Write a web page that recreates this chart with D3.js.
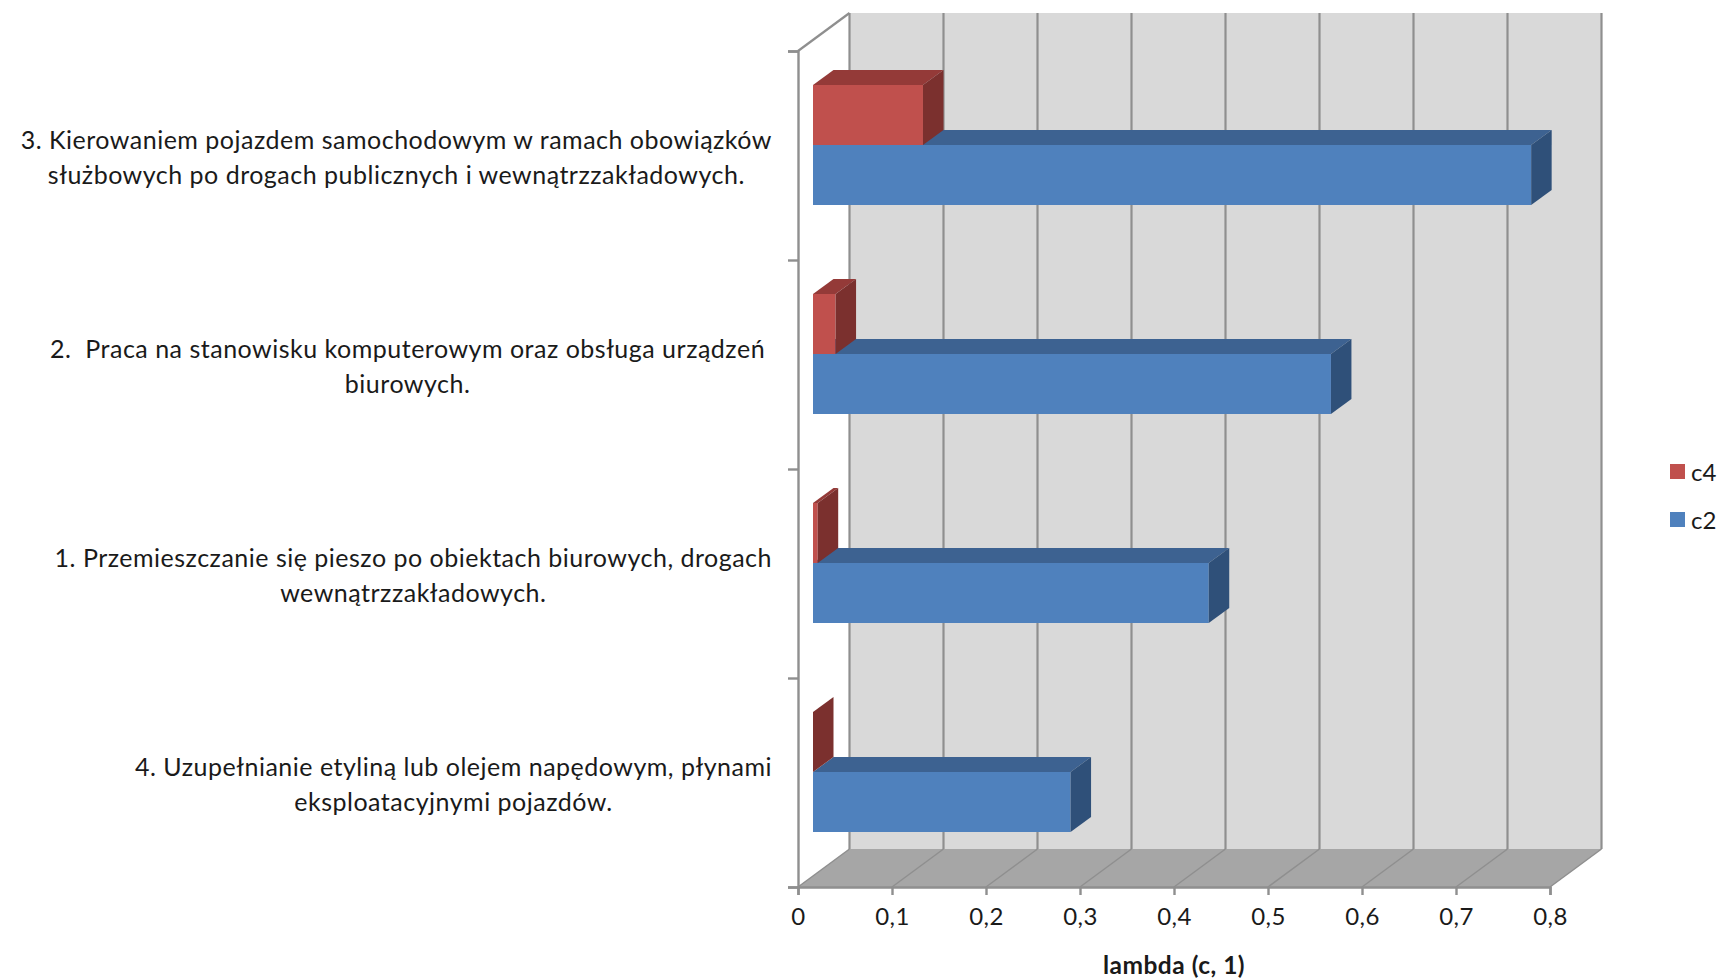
<!DOCTYPE html>
<html lang="pl">
<head>
<meta charset="utf-8">
<title>lambda (c, 1)</title>
<script src="https://cdn.jsdelivr.net/npm/d3@7"></script>
<style>
  html, body { margin: 0; background: #fff; overflow: hidden; }
  text { font-family: Lato, "Open Sans", sans-serif; fill: #1a1a1a; white-space: pre; }
</style>
</head>
<body>
<svg id="chart" width="1717" height="979"></svg>
<script>
// Categories listed top to bottom; each label is split into its printed lines.
const categories = ["3", "2", "1", "4"];
const categoryLines = [
  ["3. Kierowaniem pojazdem samochodowym w ramach obowiązków", "służbowych po drogach publicznych i wewnątrzzakładowych."],
  ["2.  Praca na stanowisku komputerowym oraz obsługa urządzeń ", "biurowych. "],
  ["1. Przemieszczanie się pieszo po obiektach biurowych, drogach", "wewnątrzzakładowych."],
  ["4. Uzupełnianie etyliną lub olejem napędowym, płynami", "eksploatacyjnymi pojazdów."]
];
const c4Values = [0.117, 0.024, 0.005, 0];
const c2Values = [0.764, 0.551, 0.421, 0.274];
const xTicks = [0, 0.1, 0.2, 0.3, 0.4, 0.5, 0.6, 0.7, 0.8];
const seriesNames = ["c4", "c2"];
const axisTitle = "lambda (c, 1)";

const palette = {
  c4: { front: "#c0504d", top: "#943a38", side: "#7b302e" },
  c2: { front: "#4f81bd", top: "#3d6291", side: "#2f5079" }
};
const valuesBySeries = { c4: c4Values, c2: c2Values };

const svg = d3.select("#chart");

// Front plane of the plot box and the oblique shift to its back plane.
const frontLeft = 798, frontRight = 1550, frontTop = 51, frontBottom = 887;
const wallDx = 51.5, wallDy = 38;
// Bars stand a little inside the box and have a smaller oblique depth.
const barInsetX = 15, barDx = 20.5, barDy = 15;

const x = d3.scaleLinear().domain([0, 0.8]).range([frontLeft, frontRight]);
const yEdge = d3.scaleLinear().domain([categories.length, 0]).range([frontBottom, frontTop]);
const yCat = d3.scaleBand().domain(categories).range([frontTop, frontBottom]);
const ySeries = d3.scaleBand().domain(seriesNames).range([34, 154]);

const poly = pts => pts.map(p => p.join(",")).join(" ");

// Back wall and floor
svg.append("polygon").attr("fill", "#d9d9d9").attr("points", poly([
  [frontLeft + wallDx, frontTop - wallDy], [frontRight + wallDx, frontTop - wallDy],
  [frontRight + wallDx, frontBottom - wallDy], [frontLeft + wallDx, frontBottom - wallDy]
]));
svg.append("polygon").attr("fill", "#a6a6a6").attr("points", poly([
  [frontLeft, frontBottom], [frontRight, frontBottom],
  [frontRight + wallDx, frontBottom - wallDy], [frontLeft + wallDx, frontBottom - wallDy]
]));

// Gridlines: vertical on the wall, oblique across the floor
const grid = svg.append("g").attr("stroke", "#8f8f8f").attr("fill", "none");
grid.selectAll("line.wall").data(xTicks).join("line").attr("class", "wall")
  .attr("stroke-width", 2.2)
  .attr("x1", d => x(d) + wallDx).attr("x2", d => x(d) + wallDx)
  .attr("y1", frontTop - wallDy).attr("y2", frontBottom - wallDy);
grid.selectAll("line.floor").data(xTicks).join("line").attr("class", "floor")
  .attr("stroke-width", 1.5)
  .attr("x1", d => x(d)).attr("x2", d => x(d) + wallDx)
  .attr("y1", frontBottom).attr("y2", frontBottom - wallDy);
grid.append("line").attr("stroke-width", 2.2)
  .attr("x1", frontLeft).attr("y1", frontTop)
  .attr("x2", frontLeft + wallDx).attr("y2", frontTop - wallDy);

// Axes
const xAxis = svg.append("g").attr("transform", `translate(0,${frontBottom})`)
  .call(d3.axisBottom(x).tickValues(xTicks).tickSize(8).tickPadding(13)
    .tickFormat(d => String(d).replace(".", ",")));
const yAxis = svg.append("g").attr("transform", `translate(${frontLeft},0)`)
  .call(d3.axisLeft(yEdge).ticks(categories.length).tickSize(10).tickFormat(""));
[xAxis, yAxis].forEach(a => {
  a.attr("font-family", null);
  a.selectAll("path.domain").attr("stroke", "#8f8f8f").attr("stroke-width", 2.4);
  a.selectAll("line").attr("stroke", "#8f8f8f").attr("stroke-width", 2.4);
});
xAxis.selectAll("text").attr("font-size", 24).attr("letter-spacing", 0.4).attr("fill", "#1a1a1a");

// Bars, drawn category by category; c4 sits on top of c2, so c2 goes first.
const bars = svg.append("g");
categories.forEach((cat, i) => {
  [...seriesNames].reverse().forEach(name => {
    const colour = palette[name];
    const x0 = x(0) + barInsetX;
    const x1 = x(valuesBySeries[name][i]) + barInsetX;
    const y0 = yCat(cat) + ySeries(name);
    const y1 = y0 + ySeries.bandwidth();
    const g = bars.append("g");
    g.append("polygon").attr("fill", colour.front)
      .attr("points", poly([[x0, y0], [x1, y0], [x1, y1], [x0, y1]]));
    g.append("polygon").attr("fill", colour.top)
      .attr("points", poly([[x0, y0], [x1, y0], [x1 + barDx, y0 - barDy], [x0 + barDx, y0 - barDy]]));
    g.append("polygon").attr("fill", colour.side)
      .attr("points", poly([[x1, y0], [x1 + barDx, y0 - barDy], [x1 + barDx, y1 - barDy], [x1, y1]]));
  });
});

// Category labels: a right-aligned block whose lines are centred on each other.
const labelRight = 772, lineGap = 34.5;
categories.forEach((cat, i) => {
  const g = svg.append("g");
  const lines = categoryLines[i];
  const mid = yCat(cat) + yCat.bandwidth() / 2 + 1;
  const texts = g.selectAll("text").data(lines).join("text")
    .attr("font-size", 25)
    .attr("letter-spacing", 0.5)
    .attr("text-anchor", "middle")
    .attr("dominant-baseline", "central")
    .attr("y", (d, k) => mid + (k - (lines.length - 1) / 2) * lineGap)
    .text(d => d);
  const widest = d3.max(texts.nodes(), n => n.getComputedTextLength());
  texts.attr("x", labelRight - widest / 2);
});

// Axis title
svg.append("text").attr("x", 1174).attr("y", 964)
  .attr("text-anchor", "middle").attr("dominant-baseline", "central")
  .attr("font-size", 24.5).attr("letter-spacing", 0.5).attr("font-weight", 700).text(axisTitle);

// Legend
const legendY = d3.scalePoint().domain(seriesNames).range([471, 519]);
const legend = svg.selectAll("g.legend").data(seriesNames).join("g").attr("class", "legend")
  .attr("transform", d => `translate(1670,${legendY(d)})`);
legend.append("rect").attr("x", 0).attr("y", -7).attr("width", 15).attr("height", 15)
  .attr("fill", d => palette[d].front);
legend.append("text").attr("x", 21).attr("dominant-baseline", "central")
  .attr("font-size", 24).text(d => d);
</script>
</body>
</html>
